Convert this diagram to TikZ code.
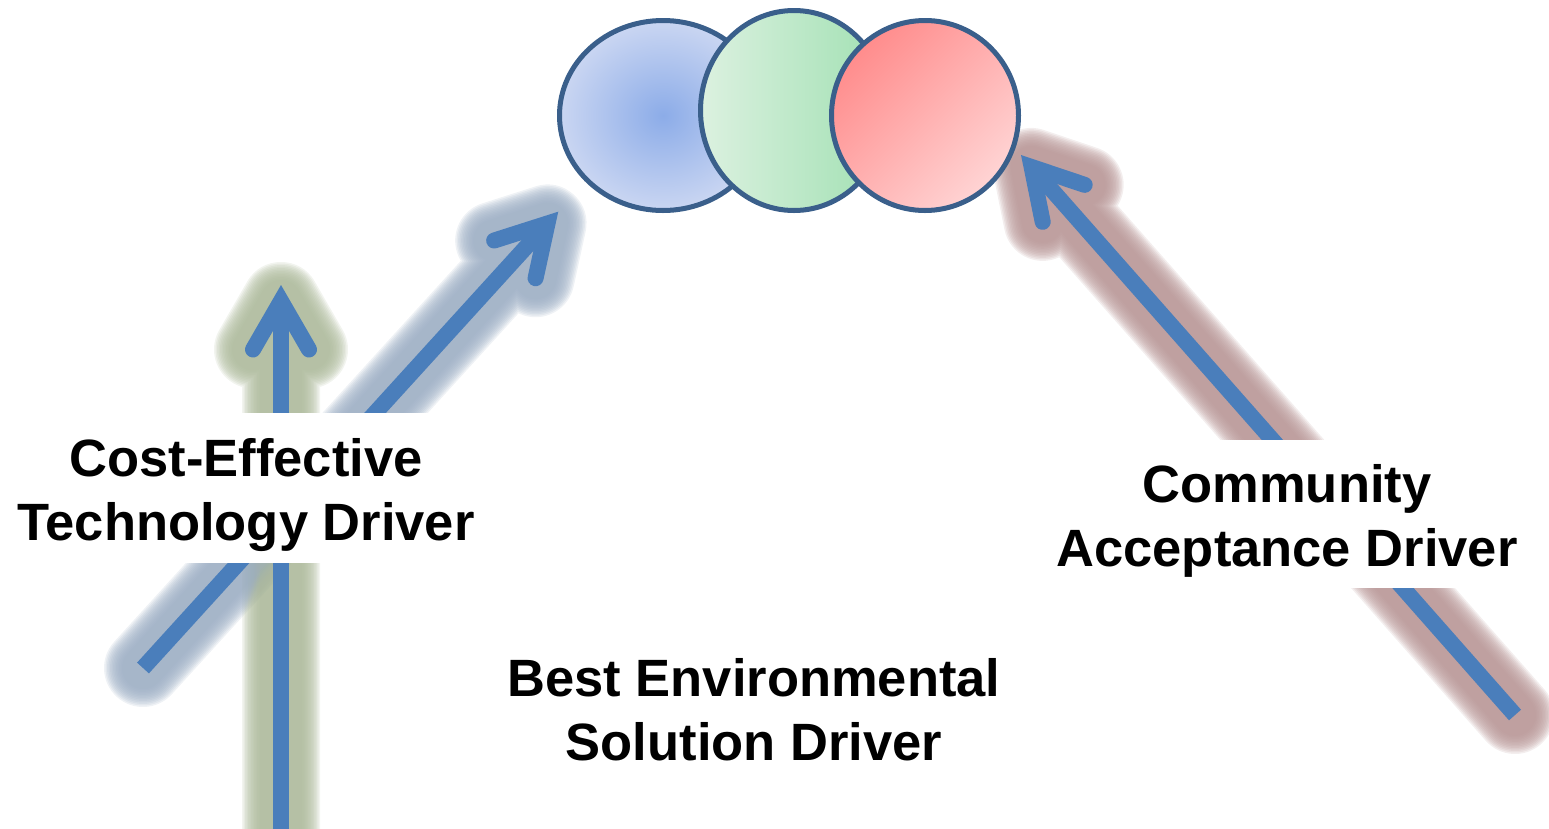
\documentclass[tikz,border=0pt]{standalone}
\usepackage{fontspec}
\setmainfont{Liberation Sans}
\usetikzlibrary{calc,shapes.geometric}

\definecolor{arrowblue}{RGB}{74,126,187}
\definecolor{rim}{RGB}{58,95,139}
\definecolor{blueIn}{RGB}{140,172,232}
\definecolor{blueOut}{RGB}{202,214,242}
\definecolor{greenL}{RGB}{220,241,224}
\definecolor{greenR}{RGB}{160,224,178}
\definecolor{redA}{RGB}{255,140,140}
\definecolor{redB}{RGB}{255,212,212}
\definecolor{haloBlue}{RGB}{155,173,195}
\definecolor{haloGreen}{RGB}{172,185,154}
\definecolor{haloRed}{RGB}{183,149,149}

\begin{document}
\begin{tikzpicture}[x=1pt,y=-1pt,
  halo/.style={draw=#1, opacity=0.16, line cap=round, line join=round},
  shaft/.style={draw=arrowblue, line width=16pt, line cap=butt},
  head/.style={draw=arrowblue, line width=16pt, line cap=round, line join=miter},
  ring/.style={draw=rim, line width=5pt, inner sep=0pt},
  panel/.style={fill=white, inner sep=0pt},
  lbl/.style={font=\fontsize{52.5}{64}\selectfont\bfseries, align=center, inner sep=0pt}
]
\useasboundingbox (0,0) rectangle (1549,828);

% arrow ends (tip = centre of the mitred head joint)
\coordinate (vtail) at (281,845);
\coordinate (vtip)  at (281,301);
\coordinate (dtail) at (143,668);
\coordinate (dtip)  at (547.5,223.5);
\coordinate (rtail) at (1515,715);
\coordinate (rtip)  at (1031.6,167);
\foreach \arr in {v,d,r} {
  \coordinate (\arr a) at ($(\arr tip)!56pt!30:(\arr tail)$);
  \coordinate (\arr b) at ($(\arr tip)!56pt!-30:(\arr tail)$);
}

% soft halos behind the arrows
\foreach \w in {78,75,...,40} {
  \draw[halo=haloGreen, line width=\w pt] (vtail) -- (vtip) (va) -- (vtip) -- (vb);
  \draw[halo=haloBlue,  line width=\w pt] (dtail) -- (dtip) (da) -- (dtip) -- (db);
  \draw[halo=haloRed,   line width=\w pt] (rtail) -- (rtip) (ra) -- (rtip) -- (rb);
}

% arrows
\foreach \arr in {v,d,r} {
  \draw[shaft] (\arr tail) -- (\arr tip);
  \draw[head] (\arr a) -- (\arr tip) -- (\arr b);
}

% label panels and labels
\node[panel, minimum width=492pt, minimum height=150pt] (costpanel) at (246,488) {};
\node[lbl] (cost) at (246,495.2) {\strut Cost-Effective\\\strut Technology Driver};

\node[panel, minimum width=495pt, minimum height=148pt] (commpanel) at (1287.5,514) {};
\node[lbl] (comm) at (1287,521.7) {\strut Community\\\strut Acceptance Driver};

\node[lbl] (best) at (754,716) {\strut Best Environmental\\\strut Solution Driver};

% the three overlapping sets
\node[ring, ellipse, shading=radial, inner color=blueIn, outer color=blueOut,
      minimum width=207pt, minimum height=190pt] (blueset) at (663,115.5) {};
\node[ring, ellipse, left color=greenL, right color=greenR,
      minimum width=187pt, minimum height=200pt] (greenset) at (794,110.5) {};
\node[ring, ellipse, top color=redA, bottom color=redB, shading angle=45,
      minimum width=187pt, minimum height=190pt] (redset) at (925,115.5) {};
\end{tikzpicture}
\end{document}
